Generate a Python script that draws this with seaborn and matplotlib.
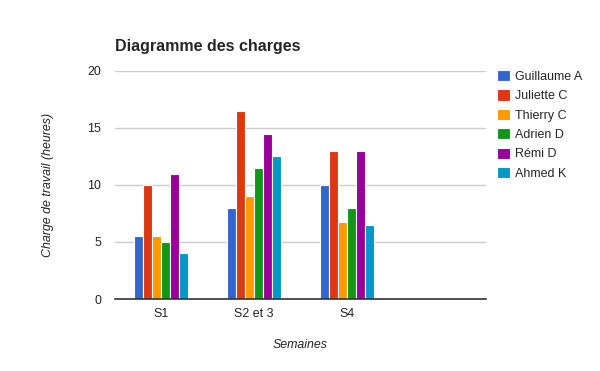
import pandas as pd
import matplotlib.pyplot as plt
import seaborn as sns

semaines = ["S1", "S2 et 3", "S4"]
personnes = ["Guillaume A", "Juliette C", "Thierry C", "Adrien D", "Rémi D", "Ahmed K"]
guillaume = [5.5, 8, 10]
juliette = [10, 16.5, 13]
thierry = [5.5, 9, 6.75]
adrien = [5, 11.5, 8]
remi = [11, 14.5, 13]
ahmed = [4, 12.5, 6.5]
couleurs = ["#3366cc", "#dc3912", "#ff9900", "#109618", "#990099", "#0099c6"]

series = [guillaume, juliette, thierry, adrien, remi, ahmed]
rows = []
for nom, vals in zip(personnes, series):
    for s, v in zip(semaines, vals):
        rows.append({"semaine": s, "personne": nom, "charge": v})
df = pd.DataFrame(rows)

sns.set_style("white")
plt.rcParams["font.family"] = ["Liberation Sans", "DejaVu Sans"]

fig = plt.figure(figsize=(6, 3.71), dpi=100)
ax = fig.add_axes([115 / 600, 1 - 299 / 371, 371 / 600, 228 / 371])

sns.barplot(data=df, x="semaine", y="charge", hue="personne",
            order=semaines + [""], hue_order=personnes, palette=couleurs,
            saturation=1, width=0.58, edgecolor="white", linewidth=0.8, ax=ax)

ax.set_ylim(0, 20)
ax.set_xlim(-0.5, 3.5)
ax.set_yticks([0, 5, 10, 15, 20])
ax.yaxis.grid(True, color="#cccccc", linewidth=1)
ax.set_axisbelow(True)
for side in ["left", "right", "top"]:
    ax.spines[side].set_visible(False)
ax.spines["bottom"].set_color("#333333")
ax.spines["bottom"].set_linewidth(1.2)
ax.tick_params(axis="both", length=0, labelsize=8.9, colors="#222222")
ax.tick_params(axis="x", pad=6.5)
ax.tick_params(axis="y", pad=10)

ax.set_xlabel("Semaines", fontsize=8.9, style="italic", color="#222222", labelpad=14)
ax.set_ylabel("Charge de travail (heures)", fontsize=8.9, style="italic",
              color="#222222", labelpad=24)
fig.text(115 / 600, 1 - 46 / 371, "Diagramme des charges", fontsize=11.5,
         fontweight="bold", va="center", ha="left")

ax.legend(loc="upper left", bbox_to_anchor=(497 / 600, 1 - 70 / 371),
          bbox_transform=fig.transFigure, frameon=False, fontsize=9.0,
          handlelength=1.0, handleheight=1.0, handletextpad=0.45,
          labelspacing=0.52, borderaxespad=0, borderpad=0)

fig.savefig("out.png", dpi=100)
